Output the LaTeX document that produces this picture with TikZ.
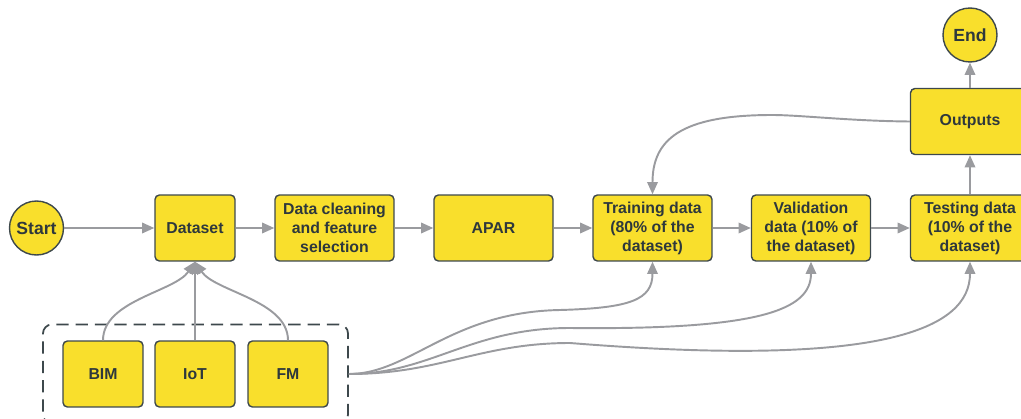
\documentclass[tikz,border=0pt]{standalone}
\usepackage{fontspec}
\setmainfont{Liberation Sans}
\usetikzlibrary{arrows.meta}

\definecolor{stepyellow}{HTML}{F9DF2C}
\definecolor{stepedge}{HTML}{3D484C}
\definecolor{linkgray}{HTML}{9A9B9F}
\definecolor{labeltext}{HTML}{2E383C}

\tikzset{
  block/.style={draw=stepedge, fill=stepyellow, line width=0.8pt, rounded corners=2.5pt,
    minimum height=1.32cm, inner sep=1pt, align=center, text=labeltext,
    font=\fontsize{9}{10.8}\selectfont\bfseries},
  wide/.style={block, minimum width=2.38cm},
  narrow/.style={block, minimum width=1.6cm},
  terminal/.style={circle, draw=stepedge, fill=stepyellow, line width=0.8pt, minimum size=1.08cm,
    inner sep=0pt, text=labeltext, font=\fontsize{10}{12}\selectfont\bfseries},
  groupbox/.style={draw=stepedge, dash pattern=on 7pt off 4pt, line width=1pt, rounded corners=5pt,
    minimum width=6.1cm, minimum height=1.98cm},
  link/.style={draw=linkgray, line width=1.1pt, -{Triangle[length=7pt,width=6pt]}}
}

\begin{document}
\begin{tikzpicture}[x=0.02cm, y=-0.02cm]
    \useasboundingbox (0,0) rectangle (1021,419);

    % main row
    \node[terminal] (start) at (36.5,228) {Start};
    \node[narrow] (data) at (195,228) {Dataset};
    \node[wide] (clean) at (334.5,228) {Data cleaning\\and feature\\selection};
    \node[wide] (apar) at (493.5,228) {APAR};
    \node[wide] (train) at (652.5,228) {Training data\\(80\% of the\\dataset)};
    \node[wide] (valid) at (811,228) {Validation\\data (10\% of\\the dataset)};
    \node[wide] (test) at (970,228) {Testing data\\(10\% of the\\dataset)};
    \node[wide] (out) at (970,121.5) {Outputs};
    \node[terminal] (stop) at (970,35) {End};

    % data sources
    \node[groupbox] (src) at (195.5,374) {};
    \node[narrow] (bim) at (103,374) {BIM};
    \node[narrow] (iot) at (195,374) {IoT};
    \node[narrow] (fm) at (288,374) {FM};

    \draw[link] (start) -- (data);
    \draw[link] (data) -- (clean);
    \draw[link] (clean) -- (apar);
    \draw[link] (apar) -- (train);
    \draw[link] (train) -- (valid);
    \draw[link] (valid) -- (test);
    \draw[link] (test) -- (out);
    \draw[link] (out) -- (stop);
    \draw[link] (out.west) .. controls (850,121) and (800,115) .. (772,115)
        .. controls (680,115) and (652.5,140) .. (train.north); % feedback

    \draw[link] (bim.north) .. controls +(0,-40) and +(-20,30) .. (data.south);
    \draw[link] (iot.north) -- (data.south);
    \draw[link] (fm.north) .. controls +(0,-40) and +(20,30) .. (data.south);

    % split of the sources
    \draw[link] (src.east) .. controls (410,374) and (450,312) .. (560,310)
        .. controls (630,308) and (652.5,300) .. (train.south);
    \draw[link] (src.east) .. controls (430,374) and (470,328) .. (570,328)
        .. controls (760,330) and (811,310) .. (valid.south);
    \draw[link] (src.east) .. controls (440,374) and (480,343) .. (570,343)
        .. controls (880,368) and (970,330) .. (test.south);
\end{tikzpicture}
\end{document}
